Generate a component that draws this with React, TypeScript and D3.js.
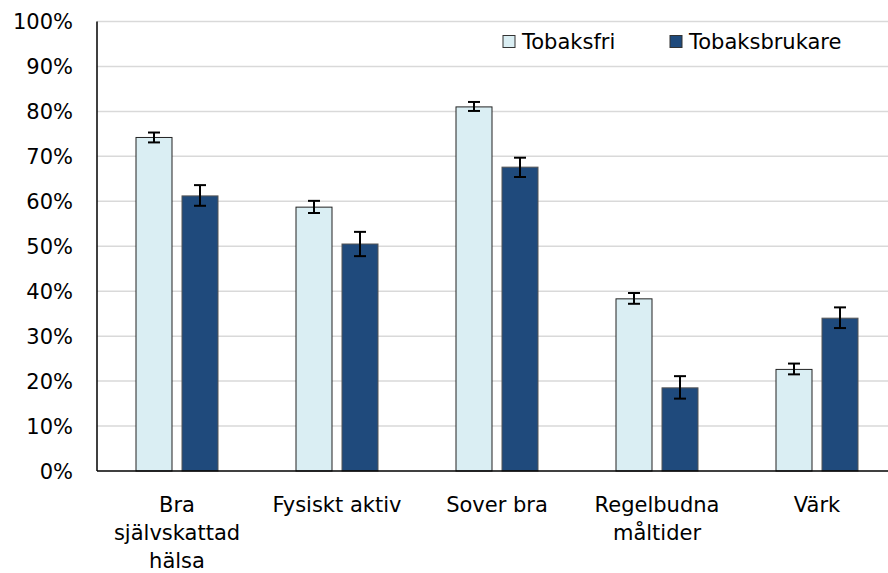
import React from "react";
import * as d3 from "d3";

const categories: string[][] = [
  ["Bra", "självskattad", "hälsa"],
  ["Fysiskt aktiv"],
  ["Sover bra"],
  ["Regelbudna", "måltider"],
  ["Värk"],
];
const seriesNames = ["Tobaksfri", "Tobaksbrukare"];
const tobaksfri = [74.2, 58.7, 81.0, 38.3, 22.6];
const tobaksfriLow = [73.1, 57.4, 80.1, 37.2, 21.5];
const tobaksfriHigh = [75.3, 60.1, 82.1, 39.6, 23.9];
const tobaksbrukare = [61.2, 50.5, 67.6, 18.5, 34.0];
const tobaksbrukareLow = [59.0, 47.8, 65.4, 16.1, 31.8];
const tobaksbrukareHigh = [63.6, 53.2, 69.7, 21.1, 36.4];
const yTicks = [0, 10, 20, 30, 40, 50, 60, 70, 80, 90, 100];

const colors = ["#DAEEF3", "#1F4A7C"];
const strokes = ["#222222", "#555555"];

export default function App() {
  const W = 888, H = 573;
  const left = 97, right = 897, top = 21.5, bottom = 471;
  const font = "'DejaVu Sans', Verdana, sans-serif";
  const fs = 21;
  const x = d3.scaleBand<number>().domain(d3.range(categories.length)).range([left, right]);
  const y = d3.scaleLinear().domain([0, 100]).range([bottom, top]);
  const barW = 36, gap = 10;
  const series = [
    { v: tobaksfri, lo: tobaksfriLow, hi: tobaksfriHigh },
    { v: tobaksbrukare, lo: tobaksbrukareLow, hi: tobaksbrukareHigh },
  ];
  return (
    <svg width={W} height={H} style={{ position: "absolute", left: 0, top: 0, background: "#fff" }} fontFamily={font}>
      {yTicks.map((t) => (
        <g key={t}>
          {t > 0 && <line x1={left} x2={W} y1={y(t)} y2={y(t)} stroke="#d9d9d9" strokeWidth={1.5} />}
          <text x={73} y={y(t)} dy="0.36em" textAnchor="end" fontSize={fs} fill="#000">{t}%</text>
        </g>
      ))}
      {series.map((s, si) =>
        s.v.map((v, i) => {
          const c = x(i)! + x.bandwidth() / 2;
          const bx = si === 0 ? c - gap / 2 - barW : c + gap / 2;
          const cx = bx + barW / 2;
          return (
            <g key={si + "-" + i}>
              <rect x={bx} y={y(v)} width={barW} height={y(0) - y(v)} fill={colors[si]} stroke={strokes[si]} strokeWidth={1} />
              <line x1={cx} x2={cx} y1={y(s.lo[i])} y2={y(s.hi[i])} stroke="#000" strokeWidth={2} />
              <line x1={cx - 6} x2={cx + 6} y1={y(s.lo[i])} y2={y(s.lo[i])} stroke="#000" strokeWidth={2} />
              <line x1={cx - 6} x2={cx + 6} y1={y(s.hi[i])} y2={y(s.hi[i])} stroke="#000" strokeWidth={2} />
            </g>
          );
        })
      )}
      <line x1={left} x2={left} y1={top} y2={bottom} stroke="#000" strokeWidth={1.5} />
      <line x1={left} x2={W} y1={bottom} y2={bottom} stroke="#000" strokeWidth={1.5} />
      {categories.map((lines, i) => (
        <text key={i} textAnchor="middle" fontSize={fs} fill="#000">
          {lines.map((l, j) => (
            <tspan key={j} x={x(i)! + x.bandwidth() / 2} y={512 + j * 28}>{l}</tspan>
          ))}
        </text>
      ))}
      {seriesNames.map((n, i) => {
        const lx = i === 0 ? 503 : 670;
        return (
          <g key={n}>
            <rect x={lx} y={35.5} width={12} height={12} fill={colors[i]} stroke="#333" strokeWidth={1} />
            <text x={lx + 19} y={49} fontSize={fs} fill="#000">{n}</text>
          </g>
        );
      })}
    </svg>
  );
}
